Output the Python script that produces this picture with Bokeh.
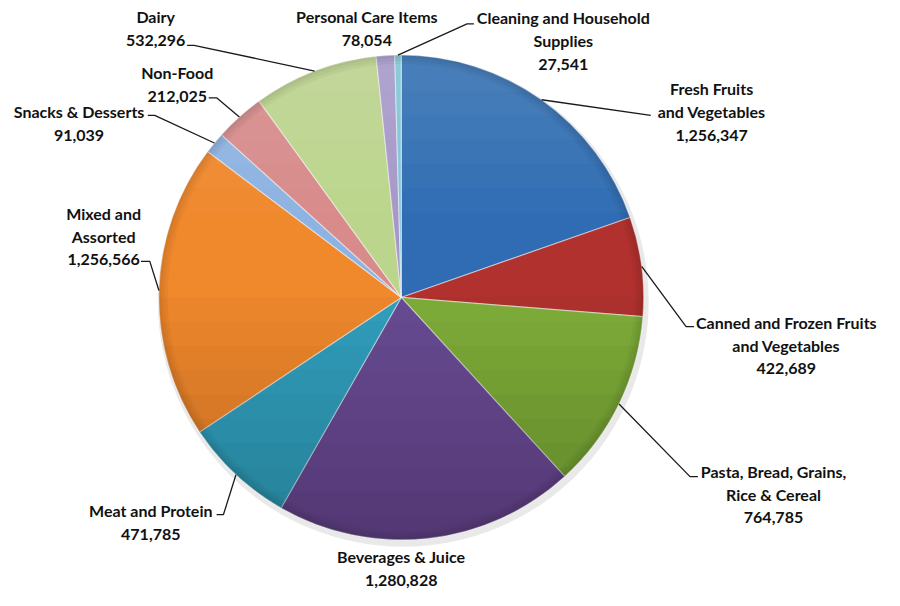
import numpy as np
from bokeh.plotting import figure
from bokeh.models import Range1d
from bokeh.core.properties import value
from bokeh.embed import file_html
from bokeh.resources import INLINE

# ---- data ----
categories = ["Fresh Fruits\nand Vegetables",
              "Canned and Frozen Fruits\nand Vegetables",
              "Pasta, Bread, Grains,\nRice & Cereal",
              "Beverages & Juice",
              "Meat and Protein",
              "Mixed and\nAssorted",
              "Snacks & Desserts",
              "Non-Food",
              "Dairy",
              "Personal Care Items",
              "Cleaning and Household\nSupplies"]
values = [1256347, 422689, 764785, 1280828, 471785, 1256566,
          91039, 212025, 532296, 78054, 27541]
colors = ["#2F6CB3", "#B0312E", "#7FAE3A", "#694C93", "#30A0BE", "#F0882C",
          "#8DB3E2", "#D98A8A", "#BBD58C", "#A597C8", "#7DC4D8"]

# ---- layout (reference pixel coords, scaled to figure) ----
W, H = 884, 590
SX, SY = W / 900.0, H / 606.0
def P(x, y):
    return x * SX, H - y * SY

label_pos = [(724, 114), (800, 354), (787, 507), (408, 583), (153, 536),
             (105, 242), (80, 126), (180, 86), (158, 28), (373, 28), (573, 41)]
# leader elbow points (None = no leader)
leader_pts = [
    [(662, 118)],
    [(698, 335), (706, 335)],
    [(702, 489), (710, 489)],
    None,
    [(227, 528), (220, 528)],
    [(152, 268), (143, 268)],
    [(157, 118), (150, 118)],
    [(220, 100), (212, 100)],
    [(197, 46), (190, 46)],
    None,
    [(475, 24), (482, 24)],
]

cx, cy = P(408, 305)
R = 249 * SY

p = figure(width=W, height=H, x_range=Range1d(0, W), y_range=Range1d(0, H),
           output_backend="svg", toolbar_location=None, min_border=0)
p.axis.visible = False
p.grid.visible = False
p.outline_line_color = None
p.background_fill_color = "white"
p.border_fill_color = "white"

total = float(sum(values))
cum = np.concatenate([[0], np.cumsum(values)]) / total
a_start = np.pi / 2 - 2 * np.pi * cum[1:]
a_end = np.pi / 2 - 2 * np.pi * cum[:-1]
mid = (a_start + a_end) / 2

# soft shadow
p.circle(x=[cx + 2], y=[cy - 4], radius=R + 3, fill_color="#999999",
         fill_alpha=0.22, line_color=None)

p.wedge(x=cx, y=cy, radius=R, start_angle=list(a_start), end_angle=list(a_end),
        fill_color=colors, line_color="white", line_alpha=0.45, line_width=1.2)

# vertical shading: darker toward bottom, lighter toward top
for k in range(10):
    yc = cy - R * (k / 10.0)
    s = np.arcsin(np.clip((yc - cy) / R, -1, 1))
    tt = np.linspace(np.pi - s, 2 * np.pi + s, 80)
    p.patch(x=list(cx + R * np.cos(tt)), y=list(cy + R * np.sin(tt)),
            fill_color="black", fill_alpha=0.02, line_color=None)
for k in range(6):
    yc = cy + R * (0.35 + 0.1 * k)
    s = np.arcsin(np.clip((yc - cy) / R, -1, 1))
    tt = np.linspace(s, np.pi - s, 80)
    p.patch(x=list(cx + R * np.cos(tt)), y=list(cy + R * np.sin(tt)),
            fill_color="white", fill_alpha=0.025, line_color=None)

# rim bevel
for k in range(3):
    p.annulus(x=[cx], y=[cy], inner_radius=R - 3 - 3 * k, outer_radius=R,
              fill_color="black", fill_alpha=0.035, line_color=None)

# leaders
lx, ly = [], []
for i, pts in enumerate(leader_pts):
    if pts is None:
        continue
    sx = cx + R * np.cos(mid[i])
    sy = cy + R * np.sin(mid[i])
    xs = [sx] + [P(*q)[0] for q in pts]
    ys = [sy] + [P(*q)[1] for q in pts]
    lx.append(xs)
    ly.append(ys)
p.multi_line(xs=lx, ys=ly, line_color="#1a1a1a", line_width=1.3)

# labels
texts = [f"{c}\n{v:,}" for c, v in zip(categories, values)]
tx = [P(*q)[0] for q in label_pos]
ty = [P(*q)[1] for q in label_pos]
p.text(x=tx, y=ty, text=texts, text_align="center", text_baseline="middle",
       text_font=value("Lato"), text_font_style="bold", text_font_size="16px",
       text_color="#111111", text_line_height=1.2)

open("out.html", "w").write(file_html(p, INLINE))
